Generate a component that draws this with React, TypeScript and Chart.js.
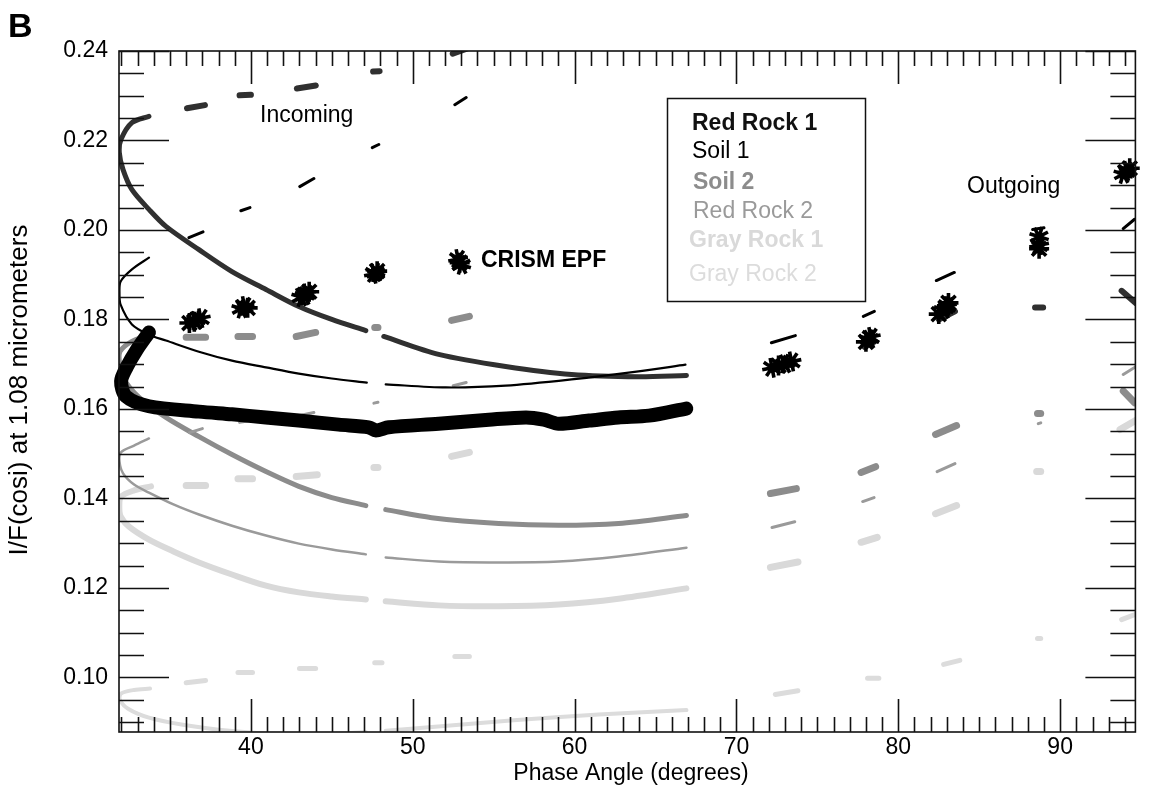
import React, { useEffect, useRef } from 'react';
import { Chart, registerables } from 'chart.js';

Chart.register(...registerables);

const FONT = "'Liberation Sans', Arial, Helvetica, sans-serif";

// Axis ranges and tick labels
const phaseMin = 31.85;
const phaseMax = 94.65;
const reflMin = 0.0878;
const reflMax = 0.24;
const phaseTicks = [40, 50, 60, 70, 80, 90];
const reflTicks = [0.1, 0.12, 0.14, 0.16, 0.18, 0.2, 0.22, 0.24];

// Incoming model traces: phase angle (deg) vs I/F(cosi); null splits each trace near 48 deg
const redRock1Phase = [33.7, 32.65, 31.97, 31.87, 32.1, 32.65, 33.7, 34.75, 36.79, 38.83, 40.93, 42.96, 45.0, 47.1, null, 48.21, 51.6, 55.74, 59.81, 63.95, 66.91];
const redRock1Refl = [0.2254, 0.224, 0.2202, 0.2173, 0.2135, 0.209, 0.2046, 0.2008, 0.1956, 0.1907, 0.1867, 0.1829, 0.18, 0.1775, null, 0.1762, 0.1722, 0.1695, 0.1677, 0.1672, 0.1675];

const soil1Phase = [33.7, 32.65, 31.95, 31.88, 31.95, 32.65, 33.7, 34.75, 36.79, 38.83, 40.93, 42.96, 45.0, 47.16, null, 48.33, 52.04, 55.74, 59.81, 63.95, 66.85];
const soil1Refl = [0.1938, 0.1912, 0.1885, 0.186, 0.1833, 0.1789, 0.1766, 0.1753, 0.1728, 0.1708, 0.1693, 0.1679, 0.1668, 0.1659, null, 0.1655, 0.1648, 0.1652, 0.1666, 0.1684, 0.1699];

const soil2Phase = [33.7, 32.65, 31.9, 31.87, 32.1, 33.09, 34.75, 36.79, 38.83, 40.93, 42.96, 45.0, 47.1, null, 48.33, 51.17, 55.31, 59.01, 62.72, 66.91];
const soil2Refl = [0.1764, 0.1751, 0.1728, 0.1706, 0.167, 0.1626, 0.1581, 0.1538, 0.1498, 0.146, 0.1427, 0.1402, 0.1384, null, 0.1375, 0.1357, 0.1344, 0.134, 0.1344, 0.1362];

const redRock2Phase = [33.7, 32.78, 31.97, 31.88, 32.1, 32.78, 33.7, 35.25, 36.79, 38.83, 40.93, 42.96, 45.0, 47.1, null, 48.33, 51.6, 55.31, 59.01, 62.72, 66.91];
const redRock2Refl = [0.1534, 0.1518, 0.1503, 0.1483, 0.1456, 0.1431, 0.1413, 0.1386, 0.1364, 0.1339, 0.1317, 0.1299, 0.1286, 0.1275, null, 0.1268, 0.1259, 0.1257, 0.1259, 0.127, 0.129];

const grayRock1Phase = [33.83, 32.78, 31.97, 31.87, 31.95, 32.47, 33.7, 35.25, 36.79, 38.83, 40.93, 42.96, 45.0, 47.1, null, 48.33, 51.6, 55.31, 59.01, 62.72, 66.91];
const grayRock1Refl = [0.1427, 0.1418, 0.1404, 0.1382, 0.136, 0.1337, 0.1308, 0.1281, 0.1257, 0.123, 0.1205, 0.119, 0.1181, 0.1174, null, 0.117, 0.1161, 0.1159, 0.1163, 0.1176, 0.1199];

const grayRock2Phase = [33.77, 32.78, 31.97, 31.9, 32.41, 33.7, 35.8, 38.02, 40.37, 42.96, 45.8, 47.1, null, 48.33, 49.88, 52.5, 56.23, 61.48, 66.91];
const grayRock2Refl = [0.0975, 0.0972, 0.0964, 0.095, 0.093, 0.091, 0.0894, 0.0883, 0.0876, 0.0873, 0.0875, 0.0878, null, 0.0881, 0.0885, 0.0893, 0.0904, 0.0917, 0.0927];

// CRISM EPF trace (heavy black band)
const epfTracePhase = [33.7, 32.96, 32.35, 31.98, 32.28, 33.7, 36.79, 38.83, 40.93, 42.96, 45.43, 47.28, 47.72, 48.52, 51.6, 54.7, 57.0, 58.1, 59.0, 60.9, 62.7, 64.6, 66.9];
const epfTraceRefl = [0.1771, 0.1733, 0.1695, 0.1662, 0.1628, 0.1606, 0.1594, 0.1588, 0.1581, 0.1574, 0.1565, 0.1559, 0.1552, 0.1559, 0.1567, 0.1576, 0.1581, 0.1576, 0.1567, 0.1574, 0.1581, 0.1585, 0.1601];

// CRISM EPF observations (asterisks)
const epfStarPhase = [36.2, 36.6, 36.9, 36.5, 39.4, 39.6, 39.8, 43.1, 43.4, 43.6, 43.3, 47.6, 47.8, 47.7, 52.8, 52.9, 53.0, 72.2, 72.6, 73.0, 73.4, 78.0, 78.2, 78.3, 82.5, 82.8, 83.0, 83.1, 88.7, 88.7, 88.7, 93.9, 94.1, 94.3];
const epfStarRefl = [0.1792, 0.1798, 0.1803, 0.1795, 0.1824, 0.183, 0.1826, 0.185, 0.1858, 0.1862, 0.1853, 0.1902, 0.1908, 0.1905, 0.1935, 0.1927, 0.1922, 0.1692, 0.1697, 0.1701, 0.1706, 0.175, 0.1756, 0.1761, 0.1812, 0.1822, 0.183, 0.1837, 0.1985, 0.1966, 0.1958, 0.2125, 0.2132, 0.2138];

// Individual observations per unit: [phase start, refl start, phase end, refl end]
const redRock1Obs = [
  [36.05, 0.2272, 37.16, 0.2279], [39.3, 0.2301, 40.0, 0.2302], [42.84, 0.2316, 44.01, 0.2323], [47.55, 0.2354, 47.95, 0.2355], [52.47, 0.2394, 53.33, 0.2405],
  [72.2, 0.1688, 73.6, 0.1701], [77.9, 0.1739, 78.5, 0.175], [82.5, 0.18, 83.5, 0.1818], [88.45, 0.1827, 88.95, 0.1827], [93.8, 0.1864, 94.7, 0.1836],
];
const soil1Obs = [
  [36.17, 0.1983, 37.04, 0.1996], [39.38, 0.2043, 39.94, 0.205], [43.02, 0.2097, 43.89, 0.2115], [47.5, 0.2184, 47.9, 0.2191], [52.6, 0.228, 53.3, 0.2296],
  [72.16, 0.1748, 73.64, 0.1764], [77.84, 0.1807, 78.52, 0.1818], [82.35, 0.1887, 83.46, 0.1905], [88.3, 0.2001, 89.0, 0.2005], [93.9, 0.2003, 94.6, 0.2024],
];
const soil2Obs = [
  [36.0, 0.176, 37.2, 0.176], [39.2, 0.1762, 40.1, 0.1762], [42.8, 0.1762, 44.0, 0.1771], [47.65, 0.1782, 47.85, 0.1782], [52.4, 0.1798, 53.5, 0.1807],
  [72.1, 0.1411, 73.7, 0.1422], [77.7, 0.1458, 78.6, 0.1471], [82.3, 0.1543, 83.6, 0.1563], [88.6, 0.159, 88.8, 0.159], [93.9, 0.164, 94.6, 0.1614],
];
const redRock2Obs = [
  [36.2, 0.1547, 37.0, 0.1556], [39.3, 0.157, 40.0, 0.1574], [42.96, 0.1585, 43.89, 0.1592], [47.6, 0.1613, 47.85, 0.1615], [52.5, 0.1652, 53.3, 0.1659],
  [72.2, 0.1335, 73.6, 0.1348], [77.8, 0.1393, 78.5, 0.1402], [82.4, 0.146, 83.5, 0.1478], [88.65, 0.1567, 88.8, 0.1569], [93.9, 0.1677, 94.7, 0.1695],
];
const grayRock1Obs = [
  [36.0, 0.1429, 37.2, 0.1429], [39.2, 0.1444, 40.1, 0.1444], [42.8, 0.1449, 44.1, 0.1453], [47.6, 0.1469, 47.85, 0.1469], [52.4, 0.1494, 53.5, 0.1503],
  [72.1, 0.1246, 73.8, 0.1258], [77.7, 0.1302, 78.7, 0.1313], [82.3, 0.1366, 83.6, 0.1384], [88.55, 0.146, 88.8, 0.146], [93.7, 0.1554, 94.8, 0.1577],
];
const grayRock2Obs = [
  [36.0, 0.0988, 37.2, 0.0993], [39.2, 0.1011, 40.1, 0.1011], [43.0, 0.102, 44.0, 0.102], [47.65, 0.1033, 48.1, 0.1033], [52.6, 0.1047, 53.5, 0.1047],
  [72.4, 0.0962, 73.8, 0.097], [78.1, 0.0998, 78.8, 0.0998], [82.8, 0.1029, 83.8, 0.1038], [88.6, 0.1087, 88.8, 0.1087], [93.8, 0.1129, 94.8, 0.1143],
];

const unitNames = ['Red Rock 1', 'Soil 1', 'Soil 2', 'Red Rock 2', 'Gray Rock 1', 'Gray Rock 2'];

type Unit = {
  name: string;
  phase: (number | null)[];
  refl: (number | null)[];
  obs: number[][];
  color: string;
  text: string;
  bold: boolean;
  width: number;
  obsWidth: number;
};

const units: Unit[] = [
  { name: unitNames[0], phase: redRock1Phase, refl: redRock1Refl, obs: redRock1Obs, color: '#303030', text: '#111111', bold: true, width: 5, obsWidth: 6 },
  { name: unitNames[1], phase: soil1Phase, refl: soil1Refl, obs: soil1Obs, color: '#000000', text: '#000000', bold: false, width: 2.2, obsWidth: 3 },
  { name: unitNames[2], phase: soil2Phase, refl: soil2Refl, obs: soil2Obs, color: '#8c8c8c', text: '#8c8c8c', bold: true, width: 5, obsWidth: 7 },
  { name: unitNames[3], phase: redRock2Phase, refl: redRock2Refl, obs: redRock2Obs, color: '#9a9a9a', text: '#9a9a9a', bold: false, width: 2.5, obsWidth: 3 },
  { name: unitNames[4], phase: grayRock1Phase, refl: grayRock1Refl, obs: grayRock1Obs, color: '#d9d9d9', text: '#d9d9d9', bold: true, width: 6, obsWidth: 7 },
  { name: unitNames[5], phase: grayRock2Phase, refl: grayRock2Refl, obs: grayRock2Obs, color: '#dcdcdc', text: '#dcdcdc', bold: false, width: 4, obsWidth: 5 },
];

const toPoints = (xs: (number | null)[], ys: (number | null)[]) => xs.map((x, i) => ({ x, y: ys[i] }));
const toSegments = (list: number[][]) =>
  list.flatMap(([x0, y0, x1, y1]) => [
    { x: x0, y: y0 },
    { x: x1, y: y1 },
    { x: x1, y: null },
  ]);

const decor = {
  id: 'decor',
  afterDraw(chart: any) {
    const { ctx, chartArea: a } = chart;
    const xs = chart.scales.x;
    const ys = chart.scales.y;
    ctx.save();

    // frame with inward ticks on all four sides
    ctx.strokeStyle = '#111';
    ctx.lineWidth = 1.6;
    ctx.strokeRect(a.left, a.top, a.right - a.left, a.bottom - a.top);
    ctx.beginPath();
    for (let v = Math.ceil(xs.min); v <= xs.max; v++) {
      const p = Math.round(xs.getPixelForValue(v)) + 0.5;
      const len = v % 10 === 0 ? 33 : 15;
      ctx.moveTo(p, a.bottom);
      ctx.lineTo(p, a.bottom - len);
      ctx.moveTo(p, a.top);
      ctx.lineTo(p, a.top + len);
    }
    const step = 0.005;
    for (let k = Math.ceil(ys.min / step - 1e-9); k * step <= ys.max + 1e-9; k++) {
      const p = Math.round(ys.getPixelForValue(k * step)) + 0.5;
      const len = k % 4 === 0 ? 50 : 25;
      ctx.moveTo(a.left, p);
      ctx.lineTo(a.left + len, p);
      ctx.moveTo(a.right, p);
      ctx.lineTo(a.right - len, p);
    }
    ctx.stroke();

    // panel letter
    ctx.fillStyle = '#000';
    ctx.textBaseline = 'alphabetic';
    ctx.textAlign = 'left';
    ctx.font = `bold 34px ${FONT}`;
    ctx.fillText('B', 8, 37);

    // axis titles
    ctx.font = `23px ${FONT}`;
    ctx.textAlign = 'center';
    ctx.fillText('Phase Angle (degrees)', 631, 780);
    ctx.save();
    ctx.translate(27, 390);
    ctx.rotate(-Math.PI / 2);
    ctx.font = `26px ${FONT}`;
    ctx.fillText('I/F(cosi) at 1.08 micrometers', 0, 0);
    ctx.restore();

    // annotations
    ctx.textAlign = 'left';
    ctx.font = `23px ${FONT}`;
    ctx.fillText('Incoming', 260, 122);
    ctx.fillText('Outgoing', 967, 193);
    ctx.font = `bold 23px ${FONT}`;
    ctx.fillText('CRISM EPF', 481, 267);

    // legend
    ctx.lineWidth = 1.5;
    ctx.strokeStyle = '#111';
    ctx.strokeRect(667.5, 98.5, 198, 203);
    const baselines = [129.5, 158, 188.5, 217.5, 246.5, 280.5];
    const lefts = [692, 692, 693, 693, 689, 689];
    units.forEach((u, i) => {
      ctx.font = `${u.bold ? 'bold ' : ''}23px ${FONT}`;
      ctx.fillStyle = u.text;
      ctx.fillText(u.name, lefts[i], baselines[i]);
    });
    ctx.restore();
  },
};

export default function App() {
  const canvasRef = useRef<HTMLCanvasElement | null>(null);

  useEffect(() => {
    document.body.style.margin = '0';
    const canvas = canvasRef.current;
    if (!canvas) return;

    const datasets: any[] = [];
    datasets.push({
      label: 'CRISM EPF',
      data: toPoints(epfStarPhase, epfStarRefl),
      showLine: false,
      pointStyle: 'star',
      pointRadius: 10,
      pointBorderWidth: 3.6,
      pointBorderColor: '#000',
      pointBackgroundColor: '#000',
      rotation: (c: any) => (c.dataIndex % 3) * 17,
      clip: false,
      order: 0,
    });
    datasets.push({
      label: 'CRISM EPF trace',
      data: toPoints(epfTracePhase, epfTraceRefl),
      showLine: true,
      borderColor: '#000',
      borderWidth: 14,
      borderJoinStyle: 'round',
      borderCapStyle: 'round',
      tension: 0.3,
      pointRadius: 0,
      clip: false,
      order: 1,
    });
    const drawOrder = [3, 2, 5, 4, 6, 7];
    units.forEach((u, i) => {
      datasets.push({
        label: u.name,
        data: toPoints(u.phase, u.refl),
        showLine: true,
        borderColor: u.color,
        borderWidth: u.width,
        borderCapStyle: 'round',
        borderJoinStyle: 'round',
        tension: 0.3,
        pointRadius: 0,
        spanGaps: false,
        clip: i === 5 ? 0 : undefined,
        order: drawOrder[i],
      });
      datasets.push({
        label: u.name + ' observations',
        data: toSegments(u.obs),
        showLine: true,
        borderColor: u.color,
        borderWidth: u.obsWidth,
        borderCapStyle: 'round',
        tension: 0,
        pointRadius: 0,
        spanGaps: false,
        order: drawOrder[i],
      });
    });

    const chart = new Chart(canvas, {
      type: 'scatter',
      data: { datasets },
      plugins: [decor],
      options: {
        responsive: false,
        animation: false,
        devicePixelRatio: 1,
        layout: { padding: { top: 51, right: 11.5, left: 0, bottom: 0 } },
        plugins: { legend: { display: false }, tooltip: { enabled: false } },
        scales: {
          x: {
            type: 'linear',
            min: phaseMin,
            max: phaseMax,
            grid: { display: false, drawTicks: false },
            border: { display: false },
            ticks: {
              color: '#000',
              font: { family: FONT, size: 23 },
              padding: 2,
              maxRotation: 0,
              autoSkip: false,
              callback: (v: any) => String(v),
            },
            afterBuildTicks: (s: any) => {
              s.ticks = phaseTicks.map((value) => ({ value }));
            },
            afterFit: (s: any) => {
              s.height = 58;
            },
          },
          y: {
            type: 'linear',
            min: reflMin,
            max: reflMax,
            grid: { display: false, drawTicks: false },
            border: { display: false },
            ticks: {
              color: '#000',
              font: { family: FONT, size: 23 },
              padding: 11,
              autoSkip: false,
              callback: (v: any) => Number(v).toFixed(2),
            },
            afterBuildTicks: (s: any) => {
              s.ticks = reflTicks.map((value) => ({ value }));
            },
            afterFit: (s: any) => {
              s.width = 119;
            },
          },
        },
      },
    } as any);

    return () => chart.destroy();
  }, []);

  return (
    <div style={{ width: 1149, height: 790 }}>
      <canvas ref={canvasRef} width={1149} height={790} style={{ display: 'block' }} />
    </div>
  );
}
